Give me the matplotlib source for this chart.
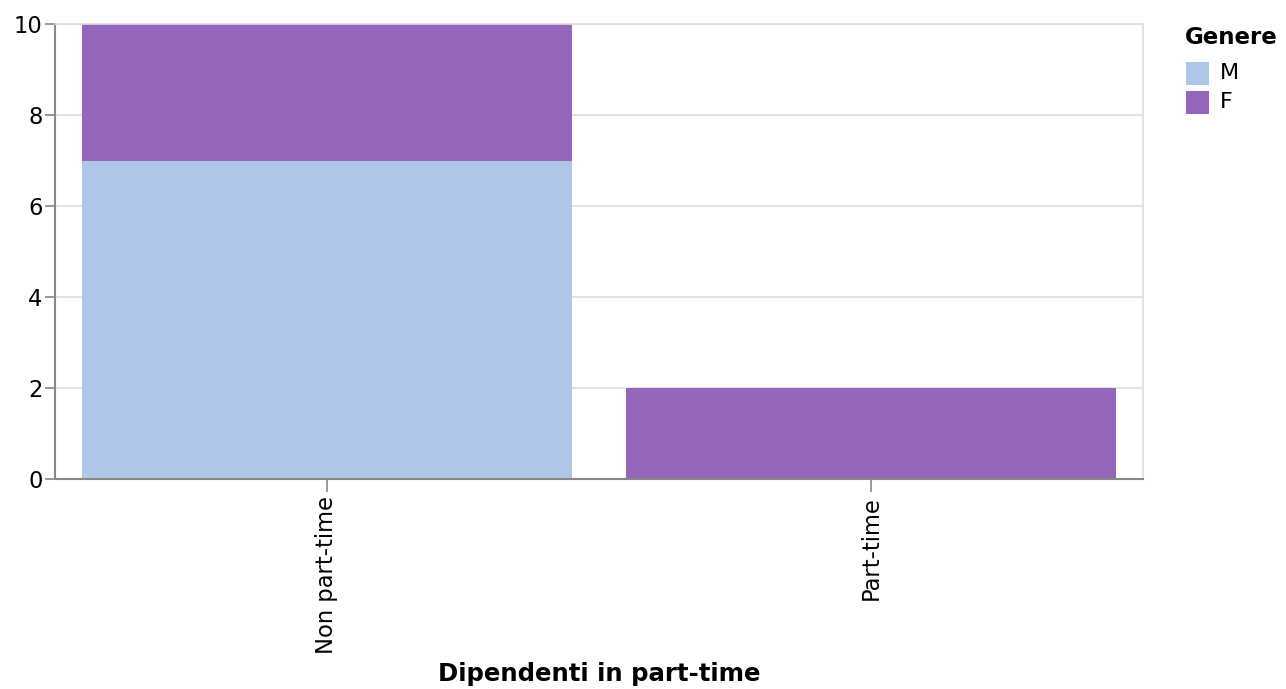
import matplotlib
matplotlib.use("Agg")
import matplotlib.pyplot as plt
from matplotlib.patches import Rectangle
import numpy as np

categories = ["Non part-time", "Part-time"]
genders = ["M", "F"]
values_M = [7, 0]
values_F = [3, 2]
colors = {"M": "#aec7e8", "F": "#9467bd"}

plt.rcParams['font.family'] = ['DejaVu Sans']

W, H = 1286, 689
fig = plt.figure(figsize=(W/100, H/100), dpi=100)
ax = fig.add_axes([55/W, 1 - 479/H, (1143-55)/W, (479-24)/H])

x = np.arange(len(categories))
width = 0.9
ax.bar(x, values_M, width=width, color=colors["M"], zorder=2)
ax.bar(x, values_F, width=width, bottom=values_M, color=colors["F"], zorder=2)

ax.set_xlim(-0.5, len(categories) - 0.5)
ax.set_ylim(0, 10)
ax.set_yticks([0, 2, 4, 6, 8, 10])
ax.set_xticks(x)
ax.set_xticklabels(categories, rotation=90, fontsize=16.3)
ax.tick_params(axis='y', labelsize=16.3, length=7, width=1.2, color="#888888", pad=2)
ax.tick_params(axis='x', length=9, width=1.2, color="#888888", pad=3)

ax.grid(axis='y', color="#dddddd", linewidth=1.2, zorder=0)
ax.set_axisbelow(True)
for side in ["top", "right"]:
    ax.spines[side].set_color("#dddddd")
    ax.spines[side].set_linewidth(1.2)
for side in ["left", "bottom"]:
    ax.spines[side].set_color("#888888")
    ax.spines[side].set_linewidth(1.5)

fig.text((55 + 1143) / 2 / W, 1 - 674/H, "Dipendenti in part-time",
         fontsize=17.6, fontweight='bold', ha='center', va='center')

# legend (drawn manually)
fig.text(1185/W, 1 - 37/H, "Genere", fontsize=16.5, fontweight='bold',
         ha='left', va='center')
for i, g in enumerate(genders):
    yc = 73 + 29 * i
    fig.add_artist(Rectangle((1186/W, 1 - (yc + 11.5)/H), 23/W, 23/H,
                             transform=fig.transFigure, facecolor=colors[g],
                             edgecolor='none'))
    fig.text(1220/W, 1 - yc/H, g, fontsize=16, ha='left', va='center')

fig.savefig("out.png", dpi=100)
